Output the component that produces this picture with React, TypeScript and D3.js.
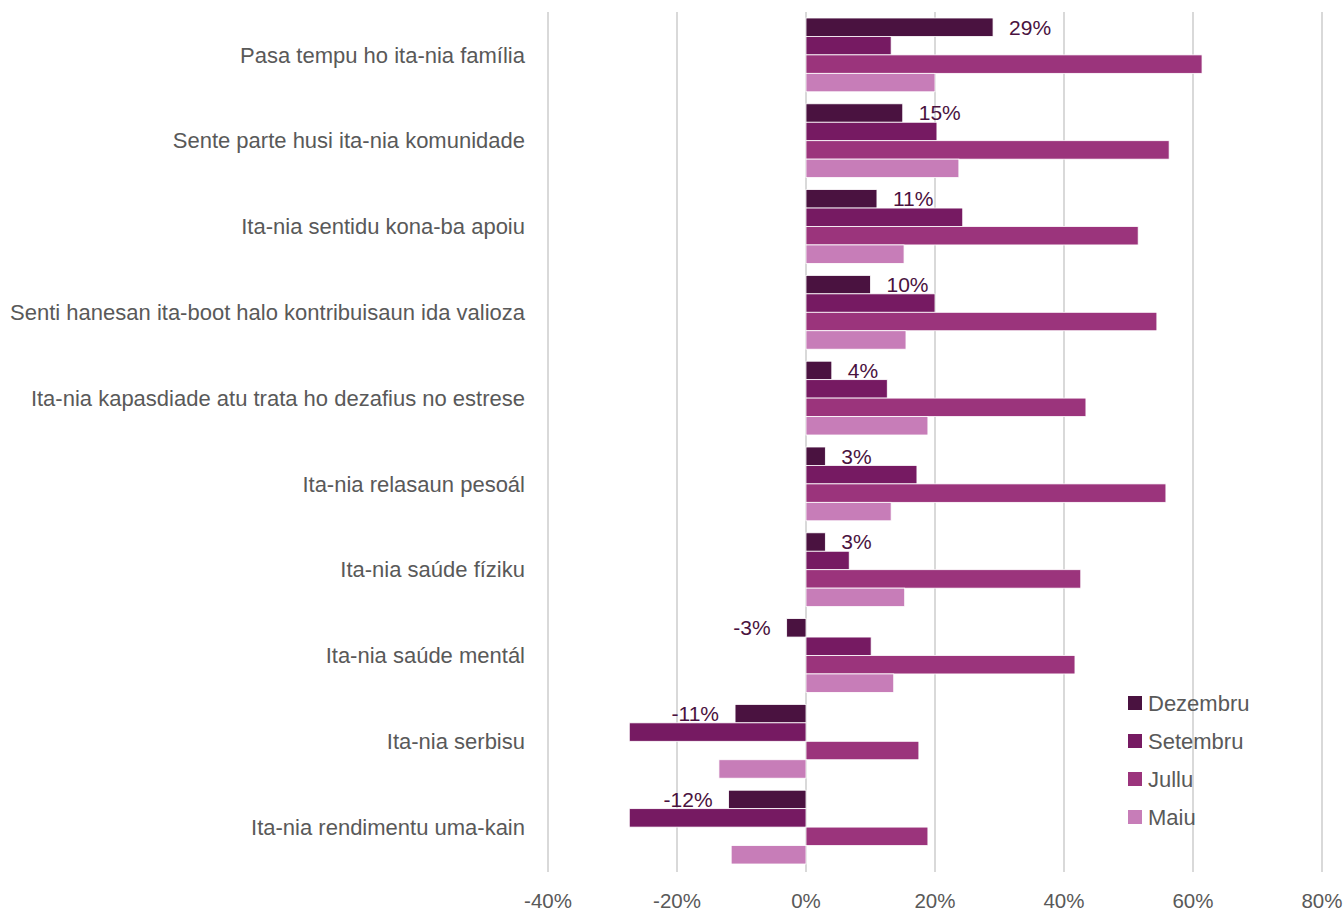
import React from 'react';
import * as d3 from 'd3';

const categories = [
  'Pasa tempu ho ita-nia família',
  'Sente parte husi ita-nia komunidade',
  'Ita-nia sentidu kona-ba apoiu',
  'Senti hanesan ita-boot halo kontribuisaun ida valioza',
  'Ita-nia kapasdiade atu trata ho dezafius no estrese',
  'Ita-nia relasaun pesoál',
  'Ita-nia saúde fíziku',
  'Ita-nia saúde mentál',
  'Ita-nia serbisu',
  'Ita-nia rendimentu uma-kain',
];

const seriesNames = ['Dezembru', 'Setembru', 'Jullu', 'Maiu'];
const dezembru = [29, 15, 11, 10, 4, 3, 3, -3, -11, -12];
const setembru = [13.2, 20.3, 24.3, 20, 12.6, 17.2, 6.7, 10.1, -27.4, -27.4];
const jullu = [61.4, 56.3, 51.5, 54.4, 43.4, 55.8, 42.6, 41.7, 17.5, 18.9];
const maiu = [20, 23.7, 15.2, 15.5, 18.9, 13.2, 15.3, 13.6, -13.5, -11.6];
const xTicks = [-40, -20, 0, 20, 40, 60, 80];

const colors = ['#4a1240', '#761a62', '#9b347c', '#c77db8'];
const seriesValues = [dezembru, setembru, jullu, maiu];

const font = '"Liberation Sans", Arial, sans-serif';
const textColor = '#595959';

export default function App() {
  const x = d3.scaleLinear().domain([-40, 80]).range([548, 1322]);
  const y = d3.scaleBand<string>().domain(categories).range([12, 870]).paddingInner(0.14).paddingOuter(0.07);
  const inner = d3.scaleBand<string>().domain(seriesNames).range([0, y.bandwidth()]);

  return (
    <svg width={1344} height={911} style={{ position: 'absolute', left: 0, top: 0, background: '#fff' }}>
      {xTicks.map(t => (
        <g key={t}>
          <line x1={x(t)} x2={x(t)} y1={12} y2={872} stroke="#d9d9d9" strokeWidth={2} />
          <text x={x(t)} y={908} textAnchor="middle" fontFamily={font} fontSize={20.5} fill={textColor}>
            {t}%
          </text>
        </g>
      ))}

      {categories.map((c, i) => (
        <g key={c}>
          <text
            x={525}
            y={(y(c) as number) + y.bandwidth() / 2}
            dy="0.35em"
            textAnchor="end"
            fontFamily={font}
            fontSize={22}
            fill={textColor}
          >
            {c}
          </text>
          {seriesNames.map((s, k) => {
            const v = seriesValues[k][i];
            const y0 = (y(c) as number) + (inner(s) as number);
            return (
              <rect
                key={s}
                x={Math.min(x(0), x(v))}
                y={y0}
                width={Math.abs(x(v) - x(0))}
                height={inner.bandwidth()}
                fill={colors[k]}
                stroke="#fff"
                strokeWidth={0.8}
              />
            );
          })}
          <text
            x={dezembru[i] >= 0 ? x(dezembru[i]) + 16 : x(dezembru[i]) - 16}
            y={(y(c) as number) + (inner('Dezembru') as number) + inner.bandwidth() / 2}
            dy="0.35em"
            textAnchor={dezembru[i] >= 0 ? 'start' : 'end'}
            fontFamily={font}
            fontSize={21}
            fill="#4a1240"
          >
            {dezembru[i]}%
          </text>
        </g>
      ))}

      {seriesNames.map((s, k) => (
        <g key={s} transform={`translate(1128, ${696 + k * 38})`}>
          <rect width={14} height={14} fill={colors[k]} />
          <text x={20} y={7} dy="0.35em" fontFamily={font} fontSize={22} fill={textColor}>
            {s}
          </text>
        </g>
      ))}
    </svg>
  );
}
